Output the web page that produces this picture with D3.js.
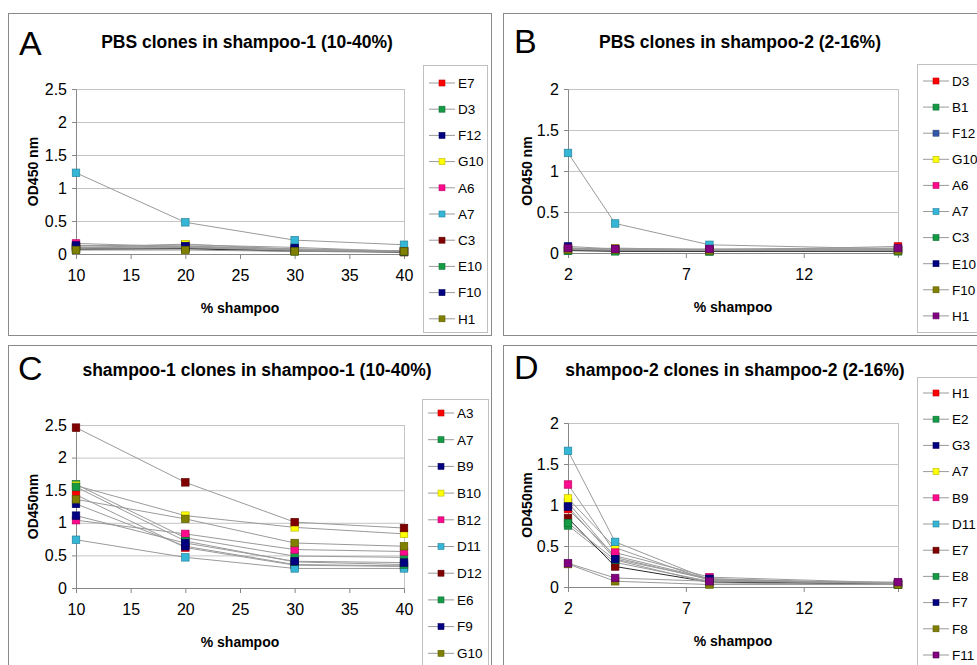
<!DOCTYPE html>
<html>
<head>
<meta charset="utf-8">
<script src="https://cdn.jsdelivr.net/npm/d3@7"></script>
<style>
    body { margin: 0; background: #fff; }
    text { font-family: Arial, "Liberation Sans", sans-serif; fill: #000; }
</style>
</head>
<body>
<div id="chart"></div>
<script>
// x values (% shampoo) used in each experiment
let xShampoo1 = [10, 20, 30, 40]
let xShampoo2 = [2, 4, 8, 16]

// tick labels
let xTicks1 = [10, 15, 20, 25, 30, 35, 40]
let xTicks2 = [2, 7, 12]
let yTicks25 = [0, 0.5, 1, 1.5, 2, 2.5]
let yTicks20 = [0, 0.5, 1, 1.5, 2]

// A: PBS clones in shampoo-1
let clonesA = ["E7", "D3", "F12", "G10", "A6", "A7", "C3", "E10", "F10", "H1"]
let valuesA = [
    [0.08, 0.10, 0.05, 0.03],
    [0.10, 0.12, 0.06, 0.04],
    [0.12, 0.14, 0.10, 0.04],
    [0.09, 0.15, 0.07, 0.05],
    [0.16, 0.11, 0.06, 0.04],
    [1.23, 0.48, 0.21, 0.14],
    [0.10, 0.09, 0.05, 0.03],
    [0.07, 0.08, 0.04, 0.03],
    [0.13, 0.12, 0.08, 0.04],
    [0.06, 0.06, 0.04, 0.04]
]

// B: PBS clones in shampoo-2
let clonesB = ["D3", "B1", "F12", "G10", "A6", "A7", "C3", "E10", "F10", "H1"]
let valuesB = [
    [0.04, 0.03, 0.03, 0.08],
    [0.03, 0.03, 0.02, 0.03],
    [0.05, 0.04, 0.03, 0.04],
    [0.04, 0.06, 0.04, 0.05],
    [0.06, 0.04, 0.03, 0.04],
    [1.22, 0.36, 0.10, 0.05],
    [0.03, 0.02, 0.02, 0.02],
    [0.08, 0.05, 0.04, 0.04],
    [0.04, 0.04, 0.03, 0.03],
    [0.06, 0.05, 0.05, 0.06]
]

// C: shampoo-1 clones in shampoo-1
let clonesC = ["A3", "A7", "B9", "B10", "B12", "D11", "D12", "E6", "F9", "G10"]
let valuesC = [
    [1.43, 0.62, 0.35, 0.33],
    [1.59, 0.77, 0.49, 0.47],
    [1.29, 0.64, 0.36, 0.34],
    [1.57, 1.11, 0.93, 0.83],
    [1.04, 0.83, 0.59, 0.56],
    [0.74, 0.47, 0.30, 0.30],
    [2.46, 1.62, 1.01, 0.92],
    [1.55, 0.72, 0.40, 0.36],
    [1.11, 0.69, 0.41, 0.39],
    [1.36, 1.06, 0.69, 0.64]
]

// D: shampoo-2 clones in shampoo-2
let clonesD = ["H1", "E2", "G3", "A7", "B9", "D11", "E7", "E8", "F7", "F8", "F11"]
let valuesD = [
    [0.95, 0.38, 0.10, 0.04],
    [0.75, 0.30, 0.07, 0.03],
    [1.03, 0.36, 0.09, 0.04],
    [1.08, 0.48, 0.08, 0.04],
    [1.25, 0.42, 0.12, 0.05],
    [1.66, 0.55, 0.09, 0.04],
    [0.84, 0.25, 0.06, 0.03],
    [0.78, 0.33, 0.05, 0.03],
    [0.98, 0.34, 0.10, 0.04],
    [0.28, 0.07, 0.03, 0.03],
    [0.29, 0.11, 0.07, 0.06]
]

// marker colours (Excel style palette)
let red = "#ff0000", green = "#159a45", navy = "#000080", yellow = "#ffff00", pink = "#ff0a8c",
    cyan = "#35b6d6", maroon = "#800000", olive = "#808000", purple = "#800080", steel = "#3556a8"
let colorsA = [red, green, navy, yellow, pink, cyan, maroon, green, navy, olive]
let colorsB = [red, green, steel, yellow, pink, cyan, green, navy, olive, purple]
let colorsC = [red, green, navy, yellow, pink, cyan, maroon, green, navy, olive]
let colorsD = [red, green, navy, yellow, pink, cyan, maroon, green, navy, olive, purple]

let lineGray = "#9a9a9a"

let svg = d3.select("#chart")
    .append("svg")
    .attr("width", 977)
    .attr("height", 665)

svg.append("rect").attr("width", 977).attr("height", 665).attr("fill", "#fff")

// one panel of the figure
function drawPanel(p) {
    let g = svg.append("g")

    // panel frame
    g.append("rect")
        .attr("x", p.frame[0] + 0.5)
        .attr("y", p.frame[1] + 0.5)
        .attr("width", p.frame[2])
        .attr("height", p.frame[3])
        .attr("fill", "none")
        .attr("stroke", "#8a8a8a")

    // panel letter and title
    g.append("text")
        .attr("x", p.letterX)
        .attr("y", p.letterY)
        .style("font-size", "34px")
        .text(p.letter)

    g.append("text")
        .attr("x", p.titleX)
        .attr("y", p.titleY)
        .attr("text-anchor", "middle")
        .style("font-size", "17.5px")
        .style("font-weight", "bold")
        .text(p.title)

    let x = d3.scaleLinear().domain(p.xDomain).range([p.plot[0], p.plot[1]])
    let y = d3.scaleLinear().domain([0, p.yTicks[p.yTicks.length - 1]]).range([p.plot[3], p.plot[2]])

    // horizontal grid lines
    g.append("g")
        .attr("transform", "translate(" + p.plot[0] + ",0)")
        .call(d3.axisLeft(y).tickValues(p.yTicks).tickSize(-(p.plot[1] - p.plot[0])).tickFormat(""))
        .call(s => s.select(".domain").remove())
        .selectAll("line").attr("stroke", "#c4c4c4")

    // right edge of plot area
    g.append("line")
        .attr("x1", p.plot[1] + 0.5).attr("x2", p.plot[1] + 0.5)
        .attr("y1", p.plot[2]).attr("y2", p.plot[3])
        .attr("stroke", "#c4c4c4")

    // axes
    let xAxis = g.append("g")
        .attr("transform", "translate(0," + p.plot[3] + ")")
        .call(d3.axisBottom(x).tickValues(p.xTicks).tickSize(5).tickPadding(11).tickFormat(d3.format("d")))
    let yAxis = g.append("g")
        .attr("transform", "translate(" + p.plot[0] + ",0)")
        .call(d3.axisLeft(y).tickValues(p.yTicks).tickSize(4).tickPadding(5).tickFormat(d3.format("~g")))
    ;[xAxis, yAxis].forEach(function(a) {
        a.select(".domain").attr("stroke", "#888")
        a.selectAll(".tick line").attr("stroke", "#888")
        a.selectAll("text").style("font-size", "16px").style("font-family", "Arial, 'Liberation Sans', sans-serif")
    })

    // axis titles
    g.append("text")
        .attr("transform", "translate(" + p.yLabelX + "," + ((p.plot[2] + p.plot[3]) / 2) + ") rotate(-90)")
        .attr("text-anchor", "middle")
        .style("font-size", "14px")
        .style("font-weight", "bold")
        .text(p.yLabel)

    g.append("text")
        .attr("x", (p.plot[0] + p.plot[1]) / 2)
        .attr("y", p.plot[3] + 59)
        .attr("text-anchor", "middle")
        .style("font-size", "14px")
        .style("font-weight", "bold")
        .text("% shampoo")

    // series lines and markers
    let line = d3.line().x(d => x(d[0])).y(d => y(d[1]))
    p.values.forEach(function(vals, i) {
        let pts = p.xs.map((xv, j) => [xv, vals[j]])
        g.append("path")
            .datum(pts)
            .attr("d", line)
            .attr("fill", "none")
            .attr("stroke", p.lineColors ? p.lineColors[i] : lineGray)
            .attr("stroke-width", 1)
    })
    p.values.forEach(function(vals, i) {
        let pts = p.xs.map((xv, j) => [xv, vals[j]])
        g.selectAll(null)
            .data(pts)
            .enter()
            .append("rect")
            .attr("x", d => x(d[0]) - 3.75)
            .attr("y", d => y(d[1]) - 3.75)
            .attr("width", 7.5)
            .attr("height", 7.5)
            .attr("fill", p.colors[i])
            .attr("stroke", d3.color(p.colors[i]).darker(0.9))
            .attr("stroke-width", 0.7)
    })

    // legend
    let L = p.legend
    g.append("rect")
        .attr("x", L.x + 0.5)
        .attr("y", L.y + 0.5)
        .attr("width", L.w)
        .attr("height", L.h)
        .attr("fill", "#fff")
        .attr("stroke", "#c0c0c0")

    let item = g.selectAll(".legend-item")
        .data(p.names)
        .enter()
        .append("g")
        .attr("transform", (d, i) => "translate(" + L.x + "," + (L.first + i * L.step) + ")")

    item.append("line")
        .attr("x1", 6).attr("x2", 32)
        .attr("stroke", lineGray)
    item.append("rect")
        .attr("x", 16).attr("y", -3)
        .attr("width", 6).attr("height", 6)
        .attr("fill", (d, i) => p.colors[i])
        .attr("stroke", (d, i) => d3.color(p.colors[i]).darker(0.9))
        .attr("stroke-width", 0.6)
    item.append("text")
        .attr("x", 35)
        .attr("dy", "0.36em")
        .style("font-size", "13.5px")
        .text(d => d)
}

drawPanel({
    frame: [8, 13, 483, 322], letter: "A", letterX: 19, letterY: 55, titleX: 247, titleY: 48,
    title: "PBS clones in shampoo-1 (10-40%)",
    plot: [76, 404, 89, 254], xDomain: [10, 40], xTicks: xTicks1, yTicks: yTicks25,
    yLabel: "OD450 nm", yLabelX: 38,
    xs: xShampoo1, names: clonesA, values: valuesA, colors: colorsA,
    lineColors: clonesA.map(c => c === "E10" ? "#2a2a2a" : lineGray),
    legend: {x: 423, y: 65, w: 64, h: 267, first: 83, step: 26.2}
})

drawPanel({
    frame: [503, 13, 500, 322], letter: "B", letterX: 514, letterY: 53, titleX: 740, titleY: 48,
    title: "PBS clones in shampoo-2 (2-16%)",
    plot: [568, 898, 89, 253], xDomain: [2, 16], xTicks: xTicks2, yTicks: yTicks20,
    yLabel: "OD450 nm", yLabelX: 532,
    xs: xShampoo2, names: clonesB, values: valuesB, colors: colorsB,
    lineColors: clonesB.map(c => c === "C3" ? "#2a2a2a" : lineGray),
    legend: {x: 917, y: 64, w: 80, h: 268, first: 81, step: 26.1}
})

drawPanel({
    frame: [8, 345, 483, 340], letter: "C", letterX: 18, letterY: 380, titleX: 257, titleY: 376,
    title: "shampoo-1 clones in shampoo-1 (10-40%)",
    plot: [76, 404, 425, 588], xDomain: [10, 40], xTicks: xTicks1, yTicks: yTicks25,
    yLabel: "OD450nm", yLabelX: 38,
    xs: xShampoo1, names: clonesC, values: valuesC, colors: colorsC,
    legend: {x: 422, y: 399, w: 66, h: 280, first: 413, step: 26.7}
})

drawPanel({
    frame: [503, 345, 500, 340], letter: "D", letterX: 514, letterY: 379, titleX: 735, titleY: 376,
    title: "shampoo-2 clones in shampoo-2 (2-16%)",
    plot: [568, 898, 423, 587], xDomain: [2, 16], xTicks: xTicks2, yTicks: yTicks20,
    yLabel: "OD450nm", yLabelX: 532,
    xs: xShampoo2, names: clonesD, values: valuesD, colors: colorsD,
    lineColors: clonesD.map(c => c === "E7" ? "#2a2a2a" : lineGray),
    legend: {x: 917, y: 377, w: 80, h: 300, first: 393, step: 26.2}
})
</script>
</body>
</html>
